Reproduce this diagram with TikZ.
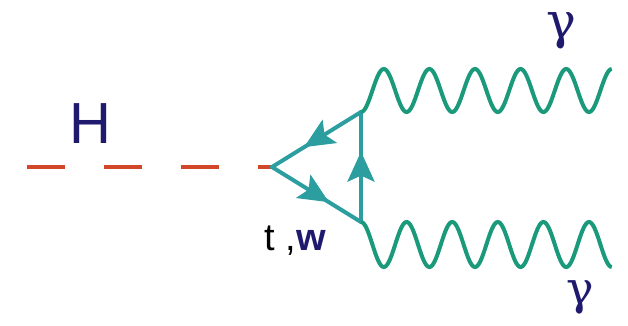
\documentclass[tikz,border=0pt]{standalone}
\usepackage{fontspec}
\setmainfont{Liberation Sans}
\newfontfamily\greekfont{DejaVu Serif}
\usetikzlibrary{arrows.meta,decorations.markings}
\definecolor{higgsred}{HTML}{D2472A}
\definecolor{loopteal}{HTML}{2C9EA0}
\definecolor{photongreen}{HTML}{1A9A7B}
\definecolor{labelnavy}{HTML}{1F1A6E}

\begin{document}
\begin{tikzpicture}[x=1pt,y=-1pt,
        higgs/.style={higgsred,line width=4pt,dash pattern=on 38pt off 39pt},
        fermion/.style={loopteal,line width=4pt,line cap=round,postaction={decorate},
          decoration={markings,mark=at position 0.64 with {\arrow{Stealth[length=30pt,width=27pt,inset=6pt]}}}},
        photon/.style={photongreen,line width=4pt},
        lbl/.style={inner sep=0pt}]
        \useasboundingbox (0,0) rectangle (628,325);
        \coordinate (hin) at (27,167);
        \coordinate (vh) at (272,167);
        \coordinate (vt) at (361,112);
        \coordinate (vb) at (361,222);
        \draw[higgs] (hin) -- (vh);
        \draw[fermion] (vt) -- (vh);
        \draw[fermion] (vh) -- (vb);
        \draw[fermion] (vb) -- (vt);
        \draw[photon,shift={(vt)}] plot[domain=0:11,samples=221,smooth] ({22.8*\x},{-21.5*(1-cos(180*\x))});
        \draw[photon,shift={(vb)}] plot[domain=0:11,samples=221,smooth] ({22.8*\x},{22.5*(1-cos(180*\x))});
        \node[lbl,labelnavy,font=\fontsize{58}{60}\selectfont] (hlabel) at (90,124) {H};
        \node[lbl,labelnavy,font=\greekfont\fontsize{50}{52}\selectfont] (gtop) at (561,31) {γ};
        \node[lbl,labelnavy,font=\greekfont\fontsize{46}{48}\selectfont] (gbot) at (580,297) {γ};
        \node[lbl,anchor=base,font=\fontsize{38}{40}\selectfont] (loop) at (295,250) {t ,\textcolor{labelnavy}{\bfseries w}};
      \end{tikzpicture}
\end{document}
